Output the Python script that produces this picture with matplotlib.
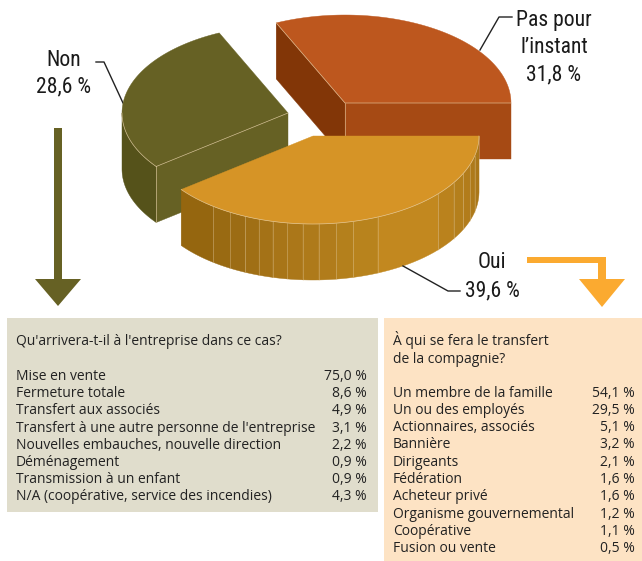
import numpy as np
import matplotlib
matplotlib.use("Agg")
import matplotlib.pyplot as plt
from matplotlib.patches import Polygon, Rectangle

# pie values
pie_values = [31.8, 28.6, 39.6]

# left panel
left_title = "Qu'arrivera-t-il à l'entreprise dans ce cas?"
left_labels = ["Mise en vente", "Fermeture totale", "Transfert aux associés",
               "Transfert à une autre personne de l'entreprise",
               "Nouvelles embauches, nouvelle direction", "Déménagement",
               "Transmission à un enfant", "N/A (coopérative, service des incendies)"]
left_values = ["75,0 %", "8,6 %", "4,9 %", "3,1 %", "2,2 %", "0,9 %", "0,9 %", "4,3 %"]

# right panel
right_title = ["À qui se fera le transfert", "de la compagnie?"]
right_labels = ["Un membre de la famille", "Un ou des employés", "Actionnaires, associés",
                "Bannière", "Dirigeants", "Fédération", "Acheteur privé",
                "Organisme gouvernemental", "Coopérative", "Fusion ou vente"]
right_values = ["54,1 %", "29,5 %", "5,1 %", "3,2 %", "2,1 %", "1,6 %", "1,6 %",
                "1,2 %", "1,1 %", "0,5 %"]

RX = 166
RY = 88
DEPTH = 56
LIGHT = "#e6cfa6"
SANS = ["Open Sans", "DejaVu Sans"]
NARROW = ["Roboto Condensed", "DejaVu Sans"]

fig = plt.figure(figsize=(6.42, 5.61), dpi=100)
ax = fig.add_axes([0, 0, 1, 1])
ax.set_xlim(0, 642)
ax.set_ylim(561, 0)
ax.axis("off")


def pt(c, deg):
    a = np.radians(deg)
    return np.array([c[0] + RX * np.cos(a), c[1] - RY * np.sin(a)])


def arc(c, a0, a1, n=80):
    return np.array([pt(c, a) for a in np.linspace(a0, a1, n)])


def face(pts, color, z=1):
    ax.add_patch(Polygon(pts, closed=True, facecolor=color, edgecolor=color, linewidth=0.3, zorder=z))


def rim_line(pts, z, lw=0.5, alpha=0.8):
    pts = np.asarray(pts)
    ax.plot(pts[:, 0], pts[:, 1], color=LIGHT, lw=lw, alpha=alpha, zorder=z)


def down(pts):
    return np.asarray(pts) + [0, DEPTH]


def quad(a, b):
    a, b = np.asarray(a), np.asarray(b)
    return np.array([a, b, b + [0, DEPTH], a + [0, DEPTH]])


# slice angles from the values
angles = np.cumsum([0] + [v * 3.6 for v in pie_values])

# orange slice
c = np.array([345, 103])
a0, a1 = angles[0], angles[1]
face(quad(c, pt(c, a1)), "#823607", 1)
face(quad(c, pt(c, a0)), "#A64A14", 1)
face(np.vstack([[c], arc(c, a0, a1)]), "#BD571E", 2)
rim_line([pt(c, a1), c, pt(c, a0)], 2.5)
rim_line([c, c + [0, DEPTH]], 1.5)

# olive slice
c = np.array([288, 113])
a0, a1 = angles[1], angles[2]
rim = arc(c, 180, a1, 30)
face(np.vstack([rim, down(rim)[::-1]]), "#55521A", 3)
face(quad(pt(c, a1), c), "#666124", 3)
face(np.vstack([[c], arc(c, a0, a1)]), "#666124", 4)
rim_line(rim, 4.5)
rim_line([pt(c, a1), c], 4.5)
rim_line([pt(c, a1), pt(c, a1) + [0, DEPTH]], 4.5)

# yellow slice, the rim is made of vertical strips
c = np.array([313, 136])
a0, a1 = angles[2], angles[3]
strips = [a0, 233, 240, 246, 251, 256, 261, 266.5, 272, 278, 284, 293, 319, 328, 335, 341, 347, 360]
strip_colors = ["#95660F", "#996A12", "#9C6C14", "#A06F15", "#A47217", "#A87518", "#AB7719",
                "#AE7A1A", "#B17C1B", "#B4801C", "#B8831D", "#C2881F", "#BA821D", "#B47F1C",
                "#B27C1B", "#AE7A1A", "#AA7719"]
for s0, s1, col in zip(strips[:-1], strips[1:], strip_colors):
    rim = arc(c, s0, s1, 12)
    face(np.vstack([rim, down(rim)[::-1]]), col, 5)
    rim_line([pt(c, s1), pt(c, s1) + [0, DEPTH]], 5.5, lw=0.4, alpha=0.6)
face(np.vstack([[c], arc(c, a0, a1)]), "#D69426", 6)
rim_line(arc(c, a0, a1), 6.5)

# leader lines
ax.plot([480, 499, 512], [50, 17, 17], color="#222222", lw=1, zorder=7)
ax.plot([123, 104, 96], [103, 62, 62], color="#222222", lw=1, zorder=0)
ax.plot([403, 448, 460], [266, 291, 291], color="#222222", lw=1, zorder=7)

# pie labels
lab = dict(family=NARROW, fontsize=15.6, color="#1a1a1a", ha="center", va="center")
ax.text(554, 20, "Pas pour", **lab)
ax.text(554, 47, "l’instant", **lab)
ax.text(554, 75, "31,8 %", **lab)
ax.text(64, 60, "Non", **lab)
ax.text(64, 87, "28,6 %", **lab)
ax.text(492, 262, "Oui", **lab)
ax.text(492, 291, "39,6 %", **lab)

# arrows
ax.add_patch(Polygon([(54, 128), (62, 128), (62, 279), (81, 279), (58, 306), (35, 279), (54, 279)],
                     closed=True, facecolor="#666124", edgecolor="none"))
ax.add_patch(Polygon([(527, 257), (606, 257), (606, 279), (625, 279), (602, 307), (579, 279),
                      (598, 279), (598, 263), (527, 263)],
                     closed=True, facecolor="#FBAA30", edgecolor="none"))

# panels
ax.add_patch(Rectangle((7, 318), 371, 194, facecolor="#E0DDCC", edgecolor="none"))
ax.add_patch(Rectangle((384, 318), 258, 243, facecolor="#FDE3C4", edgecolor="none"))

txt = dict(family=SANS, fontsize=10, color="#222222", va="baseline")
ax.text(16, 345, left_title, **txt)
for i, (l, v) in enumerate(zip(left_labels, left_values)):
    y = 380 + i * 17.2
    ax.text(16, y, l, **txt)
    ax.text(367, y, v, ha="right", **txt)

for i, l in enumerate(right_title):
    ax.text(393, 345 + i * 18, l, **txt)
for i, (l, v) in enumerate(zip(right_labels, right_values)):
    y = 396.5 + i * 17.3
    ax.text(393, y, l, **txt)
    ax.text(635, y, v, ha="right", **txt)

fig.savefig("out.png", dpi=100)
